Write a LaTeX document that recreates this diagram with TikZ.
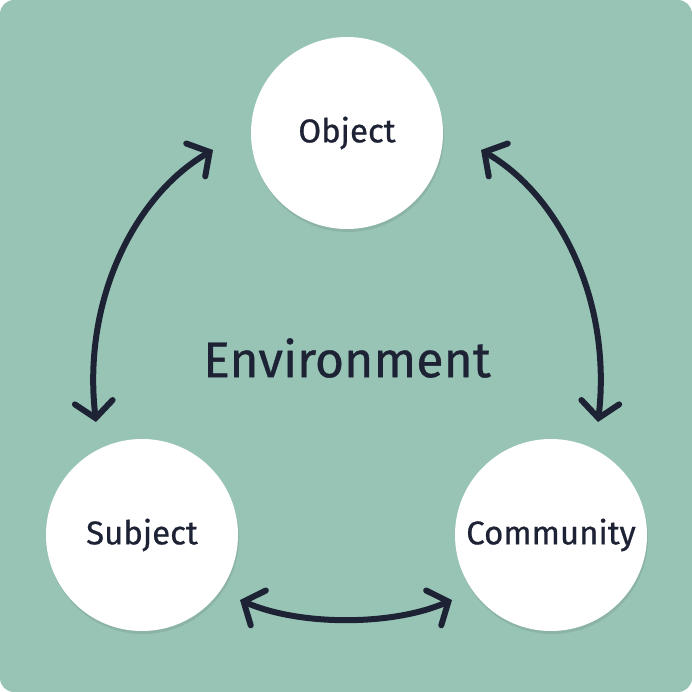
\documentclass[tikz,border=0pt]{standalone}
\usepackage{fontspec}
\setmainfont{Fira Sans}[AutoFakeBold=0.6]
\usetikzlibrary{arrows.meta,shadows}
\definecolor{bg}{HTML}{98C4B5}
\definecolor{ink}{HTML}{1E2235}
\tikzset{
  bubble/.style={circle,fill=white,minimum size=192pt,inner sep=0pt,text=ink,font=\fontsize{33}{38}\selectfont\bfseries,
    drop shadow={shadow xshift=1pt,shadow yshift=-3pt,opacity=0.08,fill=black}},
  link/.style={draw=ink,line width=6pt,line cap=round,{Straight Barb[length=16pt,width=38pt,line width=6pt,line cap=round]}-{Straight Barb[length=16pt,width=38pt,line width=6pt,line cap=round]}}
}
\begin{document}
\begin{tikzpicture}[x=1pt,y=-1pt]
\fill[bg,rounded corners=14pt] (0,0) rectangle (692,692);
\useasboundingbox (0,0) rectangle (692,692);
\node[bubble] (obj) at (347,133) {Object};
\node[bubble] (sub) at (142,535) {Subject};
\node[bubble] (com) at (551,535) {Community};
\node[text=ink,font=\fontsize{50}{56}\selectfont\bfseries] (env) at (347,358) {Environment};
\coordinate (a1) at (213,150); \coordinate (a2) at (96,422);
\coordinate (b1) at (481,150); \coordinate (b2) at (598,422);
\coordinate (c1) at (240,600); \coordinate (c2) at (452,600);
\draw[link] (a1) .. controls (135,195) and (82,300) .. (a2);
\draw[link] (b1) .. controls (559,195) and (612,300) .. (b2);
\draw[link] (c1) .. controls (300,626) and (392,626) .. (c2);
\end{tikzpicture}
\end{document}
